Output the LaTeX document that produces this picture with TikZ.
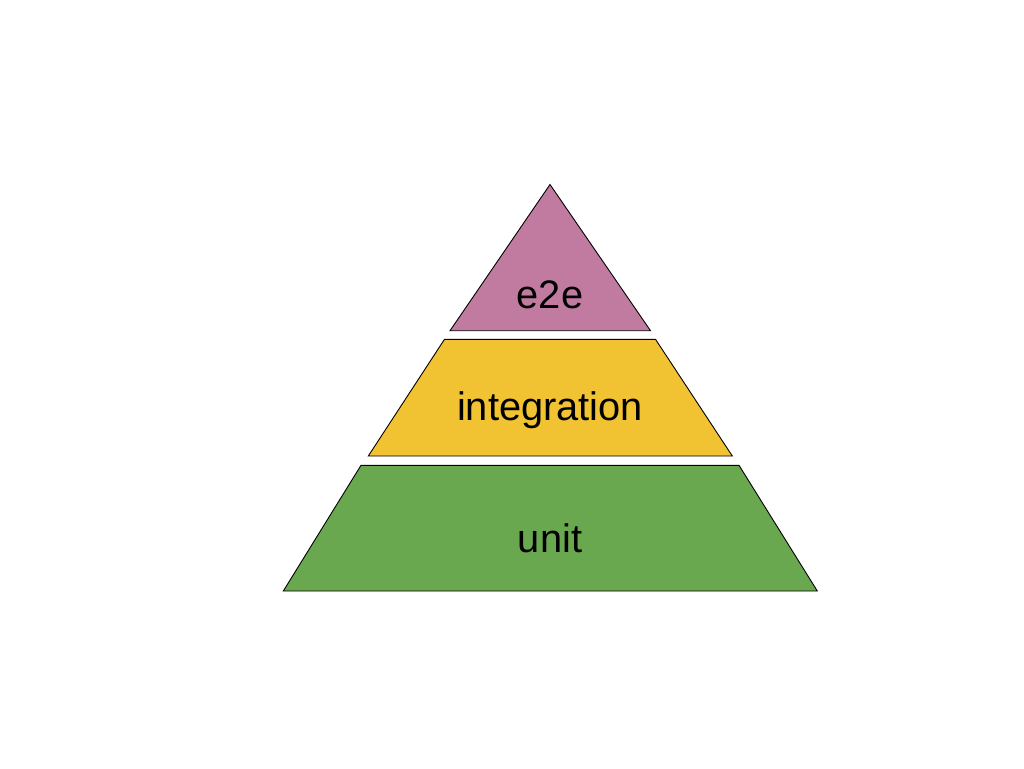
\documentclass[tikz,border=0pt]{standalone}
\usepackage{fontspec}
\setmainfont{Liberation Sans}
\definecolor{pinkc}{HTML}{C27BA0}
\definecolor{yellowc}{HTML}{F1C232}
\definecolor{greenc}{HTML}{6AA84F}
\begin{document}
\begin{tikzpicture}[x=1pt,y=-1pt,
  tier/.style={draw=black,line width=0.9pt,line join=miter},
  lbl/.style={anchor=base,inner sep=0pt,font=\fontsize{39.8}{46}\selectfont}]
\useasboundingbox[fill=white] (0,0) rectangle (1024,768);
\fill[pinkc,tier] (550,184.5) -- (650.5,330.7) -- (450,330.7) -- cycle;
\fill[yellowc,tier] (444.5,339.3) -- (655.5,339.3) -- (732.3,456) -- (368.3,456) -- cycle;
\fill[greenc,tier] (361,465.3) -- (739,465.3) -- (817.3,591) -- (283.3,591) -- cycle;
\node[lbl] (e2e) at (550,308.3) {e2e};
\node[lbl] (integ) at (550,420) {integration};
\node[lbl] (unit) at (550,552) {unit};
\end{tikzpicture}
\end{document}
